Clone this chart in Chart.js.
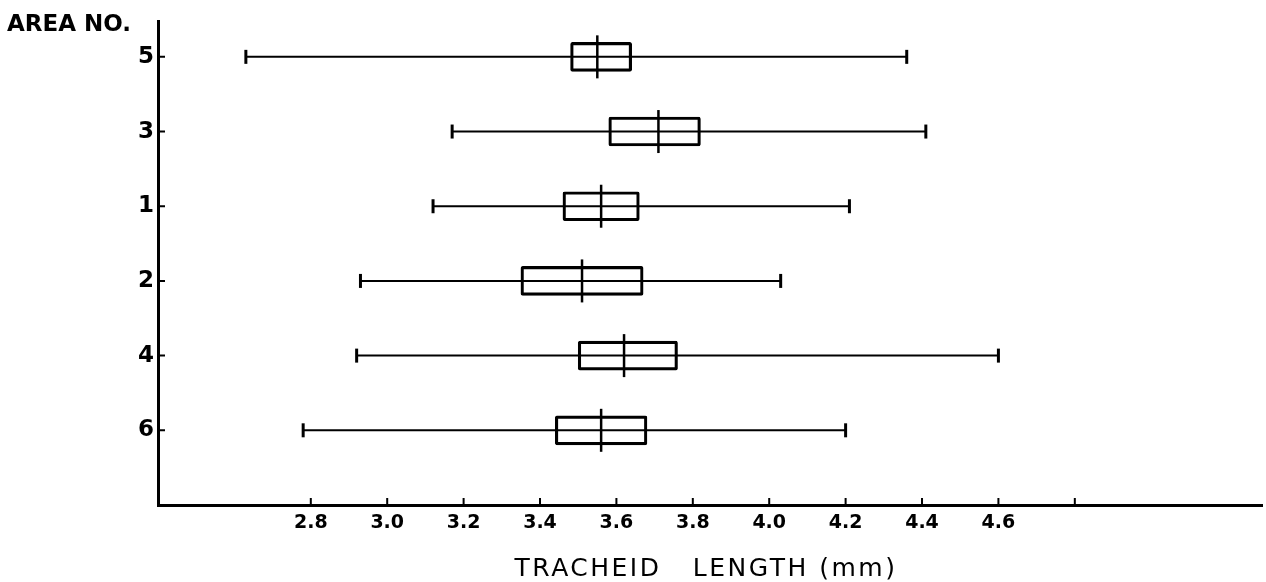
<!DOCTYPE html>
<html>
<head>
<meta charset="utf-8">
<script src="https://cdn.jsdelivr.net/npm/chart.js@4/dist/chart.umd.min.js"></script>
<style>
  html, body { margin: 0; padding: 0; background: #fff; }
  #wrap { width: 1266px; height: 582px; }
</style>
</head>
<body>
<div id="wrap"><canvas id="trachChart"></canvas></div>
<script>
// Area numbers, top to bottom as in the figure
var areas = ['5', '3', '1', '2', '4', '6'];

// Tracheid length (mm)
var minLen  = [2.63, 3.17, 3.12, 2.93, 2.92, 2.78];   // left whisker end
var maxLen  = [4.36, 4.41, 4.21, 4.03, 4.60, 4.20];   // right whisker end
var boxLow  = [3.48, 3.58, 3.46, 3.35, 3.50, 3.44];   // box left edge
var boxHigh = [3.64, 3.82, 3.66, 3.67, 3.76, 3.68];   // box right edge
var meanLen = [3.55, 3.71, 3.56, 3.51, 3.62, 3.56];   // vertical mark in the box

// x axis ticks
var xTicks      = [2.8, 3.0, 3.2, 3.4, 3.6, 3.8, 4.0, 4.2, 4.4, 4.6, 4.8];
var xTickLabels = ['2.8', '3.0', '3.2', '3.4', '3.6', '3.8', '4.0', '4.2', '4.4', '4.6', ''];

var datasets = [];

// boxes as floating bars
datasets.push({
    type: 'bar',
    indexAxis: 'y',
    data: areas.map(function (a, i) { return { y: i, x: [boxLow[i], boxHigh[i]] }; }),
    backgroundColor: 'rgba(0,0,0,0)',
    borderColor: '#000',
    borderWidth: 2.5,
    borderSkipped: false,
    borderRadius: 2,
    barThickness: 29
});

// whiskers, one line per area, with vertical end caps
areas.forEach(function (a, i) {
    datasets.push({
        type: 'line',
        data: [{ x: minLen[i], y: i }, { x: maxLen[i], y: i }],
        borderColor: '#000',
        borderWidth: 2,
        pointStyle: 'line',
        pointRotation: 90,
        pointRadius: 7,
        pointBorderWidth: 3,
        pointBorderColor: '#000',
        pointBackgroundColor: '#000'
    });
});

// mean marks
datasets.push({
    type: 'line',
    showLine: false,
    data: areas.map(function (a, i) { return { x: meanLen[i], y: i }; }),
    pointStyle: 'line',
    pointRotation: 90,
    pointRadius: 21.5,
    pointBorderWidth: 2.5,
    pointBorderColor: '#000',
    pointBackgroundColor: '#000'
});

// inward tick marks and the two axis titles
var decorPlugin = {
    id: 'decor',
    afterDraw: function (chart) {
        var ctx = chart.ctx;
        var xs = chart.scales.x, ys = chart.scales.y;
        var area = chart.chartArea;
        ctx.save();
        ctx.strokeStyle = '#000';
        ctx.lineWidth = 2;
        ctx.beginPath();
        xs.ticks.forEach(function (t) {
            var px = xs.getPixelForValue(t.value);
            ctx.moveTo(px, area.bottom);
            ctx.lineTo(px, area.bottom - 7);
        });
        ys.ticks.forEach(function (t) {
            var py = ys.getPixelForValue(t.value);
            ctx.moveTo(area.left, py);
            ctx.lineTo(area.left + 7, py);
        });
        ctx.stroke();

        ctx.fillStyle = '#000';
        ctx.textAlign = 'left';
        ctx.textBaseline = 'alphabetic';
        ctx.font = 'bold 23px "DejaVu Sans"';
        ctx.fillText('AREA NO.', 7, 31);

        ctx.textAlign = 'center';
        ctx.font = '25px "DejaVu Sans"';
        ctx.letterSpacing = '2.5px';
        ctx.fillText('TRACHEID   LENGTH (mm)', 706, 576);
        ctx.restore();
    }
};

new Chart(document.getElementById('trachChart'), {
    type: 'bar',
    data: { datasets: datasets },
    options: {
        responsive: true,
        maintainAspectRatio: false,
        animation: false,
        layout: { autoPadding: false, padding: { top: 21, right: 4, left: 0, bottom: 0 } },
        plugins: {
            legend: { display: false },
            tooltip: { enabled: false }
        },
        scales: {
            x: {
                type: 'linear',
                position: 'bottom',
                offset: false,
                min: 2.4,
                max: 5.29,
                grid: { display: false, drawTicks: false },
                border: { display: true, color: '#000', width: 3 },
                afterBuildTicks: function (scale) {
                    scale.ticks = xTicks.map(function (v) { return { value: v }; });
                },
                ticks: {
                    color: '#000',
                    padding: 7,
                    autoSkip: false,
                    maxRotation: 0,
                    font: { family: 'DejaVu Sans', weight: 'bold', size: 19 },
                    callback: function (v, i) { return xTickLabels[i]; }
                },
                afterFit: function (scale) {
                    scale.height = 77;
                    scale.paddingLeft = 0;
                    scale.paddingRight = 0;
                }
            },
            y: {
                type: 'linear',
                position: 'left',
                offset: false,
                reverse: true,
                min: -0.48,
                max: 6,
                grid: { display: false, drawTicks: false },
                border: { display: true, color: '#000', width: 3 },
                afterBuildTicks: function (scale) {
                    scale.ticks = areas.map(function (a, i) { return { value: i }; });
                },
                ticks: {
                    color: '#000',
                    padding: 4,
                    font: { family: 'DejaVu Sans', weight: 'bold', size: 23 },
                    callback: function (v, i) { return areas[i]; }
                },
                afterFit: function (scale) {
                    scale.width = 158;
                    scale.paddingTop = 0;
                    scale.paddingBottom = 0;
                }
            }
        }
    },
    plugins: [decorPlugin]
});
</script>
</body>
</html>
